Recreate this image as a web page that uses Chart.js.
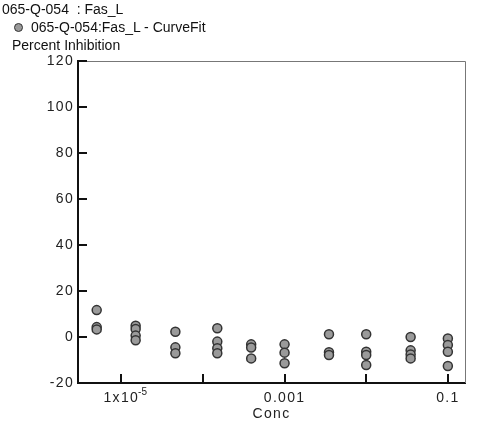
<!DOCTYPE html>
<html>
<head>
<meta charset="utf-8">
<script src="https://cdn.jsdelivr.net/npm/chart.js@4.4.1/dist/chart.umd.min.js"></script>
<style>
    body { margin: 0; background: #fff; }
    #wrap { position: relative; width: 500px; height: 421px; font-family: "Liberation Sans", Arial, sans-serif; color: #111; }
    #grafico { position: absolute; left: 0; top: 0; }
    .txt { position: absolute; font-size: 14px; line-height: 16px; white-space: pre; }
    .dot { position: absolute; width: 7px; height: 7px; border-radius: 50%; background: #9a9a9a; border: 1.5px solid #333; }
</style>
</head>
<body>
<div id="wrap">
    <canvas id="grafico" width="500" height="421"></canvas>
    <div class="txt" style="left:2px;top:1px">065-Q-054  : Fas_L</div>
    <div class="dot" style="left:14px;top:23px"></div>
    <div class="txt" style="left:31px;top:19px">065-Q-054:Fas_L - CurveFit</div>
    <div class="txt" style="left:12px;top:37px">Percent Inhibition</div>
</div>
<script>
// concentrations and replicate readings per concentration
const conc = [5.0e-6, 1.5e-5, 4.6e-5, 1.5e-4, 3.9e-4, 1.0e-3, 3.5e-3, 1.0e-2, 3.5e-2, 1.0e-1];
const rep1 = [11.7, 4.9, 2.3, 3.8, -3.2, -3.2, 1.2, 1.2, 0.0, -0.6];
const rep2 = [4.3, 3.5, -4.5, -2.0, -4.6, -6.8, -6.6, -6.4, -5.8, -3.5];
const rep3 = [3.3, 0.6, -7.1, -4.9, -9.3, -11.4, -7.8, -7.8, -7.6, -6.4];
const rep4 = [null, -1.4, null, -7.1, null, null, null, -12.2, -9.3, -12.6];

const xTicks = [1e-5, 1e-4, 1e-3, 1e-2, 1e-1];
const xLabels = ['1x10', '', '0.001', '', '0.1'];
const xExpoente = ['-5', '', '', '', ''];

const fonte = '"Liberation Sans", Arial';
const espaco = '1.3px';

const pontos = [];
[rep1, rep2, rep3, rep4].forEach(rep => {
    rep.forEach((v, i) => {
        if (v !== null) pontos.push({ x: conc[i], y: v });
    });
});

function indiceX(v) {
    return xTicks.findIndex(t => Math.abs(Math.log10(t) - Math.log10(v)) < 1e-6);
}

// wider letter spacing on the axis texts, like the original
const espacamento = {
    id: 'espacamento',
    beforeDraw(chart) { chart.ctx.letterSpacing = espaco; },
    afterDraw(chart) { chart.ctx.letterSpacing = '0px'; }
};

// draws the thin top/right frame, the inward tick marks and the exponent
const moldura = {
    id: 'moldura',
    afterDraw(chart) {
        const { ctx, chartArea: a, scales } = chart;
        ctx.save();
        ctx.strokeStyle = '#777';
        ctx.lineWidth = 1;
        ctx.beginPath();
        ctx.moveTo(a.left, a.top + 0.5);
        ctx.lineTo(a.right + 0.5, a.top + 0.5);
        ctx.lineTo(a.right + 0.5, a.bottom);
        ctx.stroke();

        ctx.strokeStyle = '#111';
        ctx.lineWidth = 2;
        ctx.beginPath();
        scales.y.ticks.forEach(t => {
            const y = Math.round(scales.y.getPixelForValue(t.value));
            ctx.moveTo(a.left, y);
            ctx.lineTo(a.left + 9, y);
        });
        xTicks.forEach(v => {
            const x = Math.round(scales.x.getPixelForValue(v));
            ctx.moveTo(x, a.bottom);
            ctx.lineTo(x, a.bottom - 9);
        });
        ctx.stroke();

        // exponent next to "1x10"
        ctx.fillStyle = '#222';
        ctx.textBaseline = 'alphabetic';
        ctx.textAlign = 'left';
        xTicks.forEach((v, i) => {
            if (!xExpoente[i]) return;
            ctx.font = `14px ${fonte}`;
            ctx.letterSpacing = espaco;
            const w = ctx.measureText(xLabels[i]).width;
            const x = scales.x.getPixelForValue(v) + w / 2 - 1;
            ctx.font = `10px ${fonte}`;
            ctx.letterSpacing = '0px';
            ctx.fillText(xExpoente[i], x, a.bottom + 12);
        });
        ctx.restore();
    }
};

new Chart(document.getElementById('grafico'), {
    type: 'scatter',
    data: {
        datasets: [{
            label: '065-Q-054:Fas_L - CurveFit',
            data: pontos,
            pointRadius: 4.5,
            pointBackgroundColor: '#9a9a9a',
            pointBorderColor: '#333',
            pointBorderWidth: 1.5
        }]
    },
    options: {
        responsive: false,
        animation: false,
        layout: { padding: { top: 61, right: 35, left: 0, bottom: 0 } },
        plugins: { legend: { display: false }, tooltip: { enabled: false } },
        scales: {
            x: {
                type: 'logarithmic',
                min: Math.pow(10, -5.53),
                max: Math.pow(10, -0.79),
                afterBuildTicks: s => { s.ticks = xTicks.map(v => ({ value: v })); },
                afterFit: s => { s.height = 38; },
                grid: { display: false, drawTicks: false },
                border: { display: true, color: '#111', width: 2 },
                ticks: {
                    autoSkip: false,
                    maxRotation: 0,
                    padding: 7,
                    color: '#222',
                    font: { family: fonte, size: 14 },
                    callback: v => {
                        const i = indiceX(v);
                        return i >= 0 ? xLabels[i] : '';
                    }
                },
                title: {
                    display: true,
                    text: 'Conc',
                    color: '#222',
                    padding: { top: 0, bottom: 0 },
                    font: { family: fonte, size: 14, lineHeight: 1.0 }
                }
            },
            y: {
                min: -20,
                max: 120,
                afterFit: s => { s.width = 78; },
                grid: { display: false, drawTicks: false },
                border: { display: true, color: '#111', width: 2 },
                ticks: {
                    stepSize: 20,
                    padding: 4,
                    color: '#222',
                    font: { family: fonte, size: 14 }
                }
            }
        }
    },
    plugins: [espacamento, moldura]
});
</script>
</body>
</html>
